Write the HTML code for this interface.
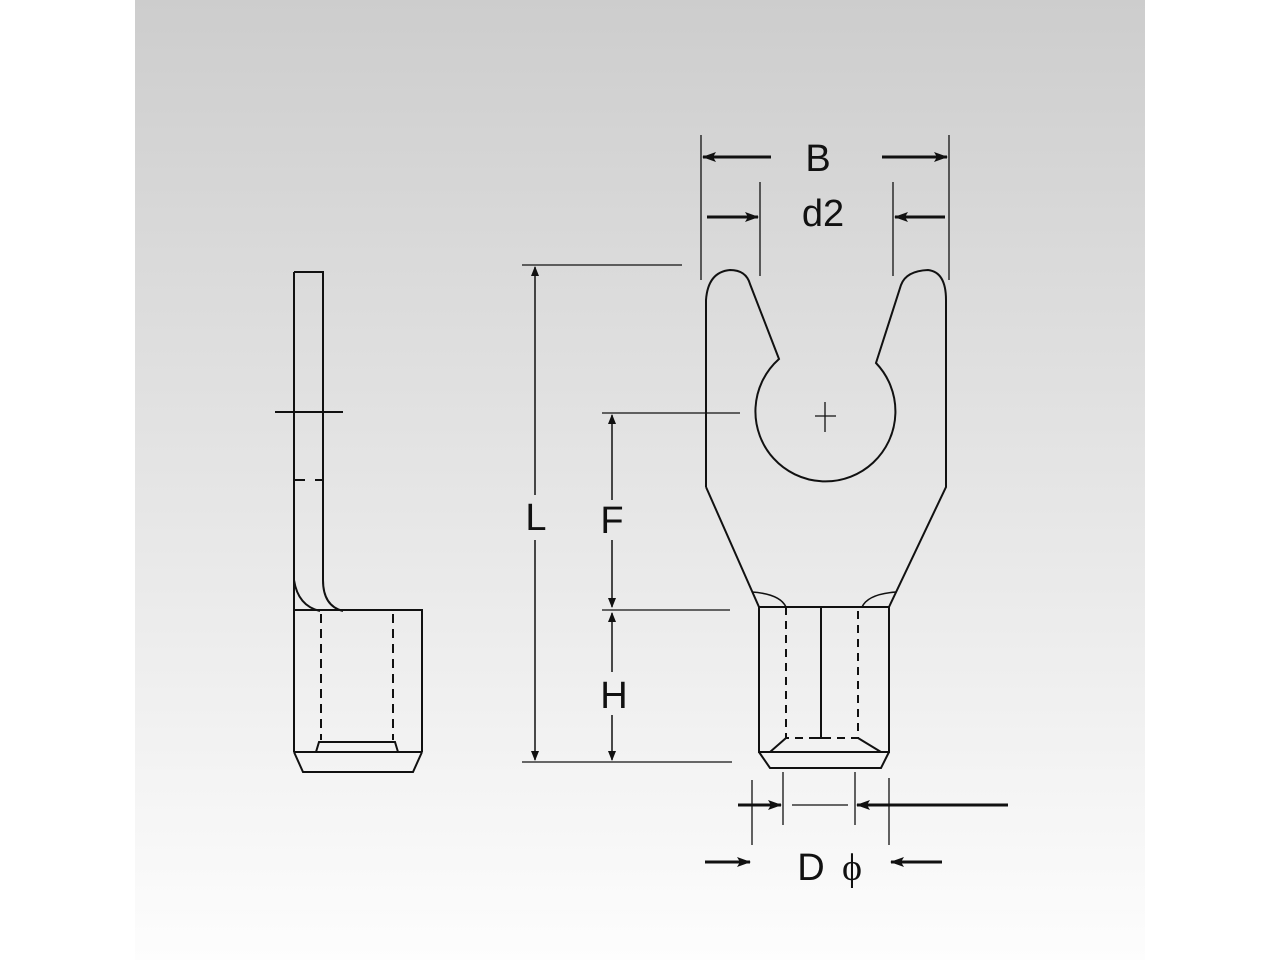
<!DOCTYPE html>
<html><head><style>
html,body{margin:0;padding:0;background:#fff;}
.p{position:absolute;left:135px;top:0;width:1010px;height:960px;background:linear-gradient(#cdcdcd,#fdfdfd);}
</style></head><body>
<div class="p"></div>
<svg width="1280" height="960" style="position:absolute;left:0;top:0" font-family="Liberation Sans, sans-serif">
<defs><marker id="a" markerWidth="14" markerHeight="10" refX="13" refY="5" orient="auto" markerUnits="userSpaceOnUse"><path d="M0,0 L14,5 L0,10 L3,5z" fill="#111"/></marker>
<marker id="b" markerWidth="10" markerHeight="8" refX="9" refY="4" orient="auto" markerUnits="userSpaceOnUse"><path d="M0,0 L10,4 L0,8z" fill="#111"/></marker></defs>
<g fill="none" stroke="#111" stroke-width="2">
<path d="M294,272 H323 V580 Q323,606 343,611 M294,272 V580 Q298,606 320,611"/>
<path d="M275,412 H343"/>
<path d="M294,480 H305 M315,480 H323"/>
<path d="M294,580 V752 M294,610 H422 V752 M294,752 H422 M294,752 L303,772 H413 L422,752"/>
<path d="M321,614 V740 M393,614 V740" stroke-dasharray="9,6"/>
<path d="M316,752 L319,742 H395 L398,752"/>
<path d="M706,487 V300 Q708,272 730,270 Q746,270 750,284 L779,359 A70,70 0 1 0 876,363 L901,285 Q906,271 928,270 Q946,272 946,300 V487 L889,607 M706,487 L759,607"/>
<path d="M759,607 H889 V752 H759 Z M759,752 L770,768 H881 L889,752 M786,738 L770,752 M858,738 L881,752"/>
<path d="M752,592 Q780,594 786,607 M896,592 Q868,594 862,607" stroke-width="1.5"/>
<path d="M786,607 V738 H858 V607" stroke-dasharray="8,6"/>
<path d="M821,607 V738 M815,738 H827"/>
<path d="M815,416 H836 M825,402 V432" stroke-width="1.3"/>
</g>
<g fill="none" stroke="#111" stroke-width="1.3">
<path d="M701,135 V280 M949,135 V280 M760,182 V276 M893,182 V276"/>
<path d="M522,265 H682 M522,762 H732 M602,413 H740 M602,610 H730"/>
<path d="M752,780 V845 M783,772 V825 M855,772 V825 M889,778 V845 M792,805 H848"/>
</g>
<g stroke="#111" stroke-width="3" marker-end="url(#a)">
<path d="M771,157 H703"/><path d="M882,157 H947"/>
<path d="M707,217 H758"/><path d="M945,217 H895"/>
<path d="M738,805 H781"/><path d="M1008,805 H857"/>
<path d="M705,862 H750"/><path d="M942,862 H891"/>
</g>
<g stroke="#111" stroke-width="1.5" marker-end="url(#b)">
<path d="M535,495 V267"/><path d="M535,540 V760"/>
<path d="M612,500 V415"/><path d="M612,540 V607"/>
<path d="M612,672 V613"/><path d="M612,715 V760"/>
</g>
<g fill="#111" font-size="38" text-anchor="middle">
<text x="818" y="171">B</text>
<text x="823" y="226">d2</text>
<text x="536" y="530">L</text>
<text x="612" y="533">F</text>
<text x="614" y="708">H</text>
<text x="811" y="880">D</text>
<text x="852" y="880" font-family="Liberation Serif, serif">ϕ</text>
</g>
</svg>
</body></html>
